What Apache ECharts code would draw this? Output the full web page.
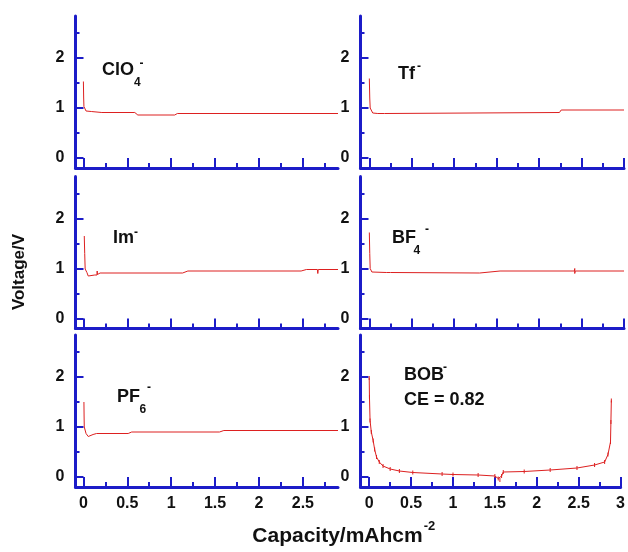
<!DOCTYPE html>
<html><head><meta charset="utf-8">
<script src="https://cdn.jsdelivr.net/npm/echarts@6/dist/echarts.min.js"></script>
<style>html,body{margin:0;padding:0;background:#fff}#c{width:628px;height:552px}</style>
</head><body><div id="c"></div>
<script>
// ---- tick values ----
const xMajorTicks = [0, 0.5, 1, 1.5, 2, 2.5, 3];
const xMinorTicks = [0.25, 0.75, 1.25, 1.75, 2.25, 2.75];
const yMajorTicks = [0, 1, 2];
const yMinorTicks = [0.5, 1.5, 2.5];

// ---- data: [capacity (mAh cm^-2), voltage (V)] ----
const clo4 = [[0,1.53],[0.003,1.2],[0.006,1.03],[0.03,0.94],[0.09,0.93],[0.21,0.91],[0.585,0.91],[0.62,0.86],[1.04,0.86],[1.07,0.89],[2.9,0.89]];
const tf = [[0,1.59],[0.005,1.2],[0.01,1.0],[0.04,0.9],[0.06,0.86],[0.1,0.89],[0.18,0.89],[0.19,0.92],[0.2,0.91],[2.24,0.91],[2.26,0.96],[3.0,0.96]];
const im = [[0.01,1.65],[0.015,1.3],[0.02,0.99],[0.04,0.92],[0.055,0.85],[0.13,0.87],[0.155,0.87],[0.157,0.95],[0.16,0.88],[0.19,0.91],[1.13,0.91],[1.19,0.95],[2.48,0.95],[2.54,0.98],[2.665,0.98],[2.67,0.9],[2.675,0.98],[2.9,0.98]];
const bf4 = [[0,1.72],[0.005,1.3],[0.01,1.0],[0.03,0.93],[0.05,0.91],[0.2,0.92],[0.22,0.95],[0.25,0.92],[0.27,0.91],[1.3,0.91],[1.54,0.95],[2.415,0.95],[2.42,1.0],[2.42,0.9],[2.425,0.95],[3.0,0.95]];
const pf6 = [[0.006,1.5],[0.008,1.2],[0.01,1.0],[0.03,0.87],[0.055,0.81],[0.11,0.85],[0.15,0.87],[0.51,0.87],[0.55,0.9],[1.55,0.9],[1.6,0.93],[2.9,0.93]];
const bob = [[0,1.98],[0.003,1.6],[0.01,1.13],[0.025,0.9],[0.047,0.73],[0.065,0.55],[0.087,0.4],[0.12,0.3],[0.165,0.22],[0.25,0.16],[0.36,0.12],[0.52,0.09],[0.87,0.06],[1.0,0.05],[1.3,0.04],[1.5,0.02],[1.54,-0.03],[1.56,-0.06],[1.58,0.02],[1.6,0.1],[1.85,0.11],[2.16,0.14],[2.48,0.18],[2.69,0.24],[2.81,0.3],[2.85,0.45],[2.88,0.7],[2.885,1.1],[2.89,1.53]];

const BLUE = '#1c1cc8';
const RED = '#dd2020';
const FONT = 'Liberation Sans, Arial, Helvetica, sans-serif';

const panels = [
  {data: clo4, col: 0, row: 0},
  {data: tf,   col: 1, row: 0},
  {data: im,   col: 0, row: 1},
  {data: bf4,  col: 1, row: 1},
  {data: pf6,  col: 0, row: 2},
  {data: bob,  col: 1, row: 2, marks: true}
];
const colLeft = [75.5, 360.5], colWidth = [262.5, 263.5];
const colXRange = [[-0.09, 2.9], [-0.104, 3.0]];
const rowTop = [16, 176.5, 335], gridH = 152;
const yMin = -0.2, yMax = 2.84;

const grid = [], xAxis = [], yAxis = [], series = [];
panels.forEach((p, i) => {
  grid.push({left: colLeft[p.col], top: rowTop[p.row], width: colWidth[p.col], height: gridH, containLabel: false});
  const [xmin, xmax] = colXRange[p.col];
  const maj = xMajorTicks.filter(v => v >= xmin && v <= xmax);
  const mnr = xMinorTicks.filter(v => v >= xmin && v <= xmax);
  const showX = p.row === 2;
  xAxis.push({
    gridIndex: i, type: 'value', min: xmin, max: xmax, position: 'bottom',
    axisLine: {show: true, onZero: false, lineStyle: {color: BLUE, width: 3}},
    axisTick: {show: true, inside: true, length: 10, customValues: maj, lineStyle: {color: BLUE, width: 2}},
    axisLabel: {show: showX, customValues: maj, margin: 9, color: '#111', fontSize: 16, fontWeight: 'bold', fontFamily: FONT},
    splitLine: {show: false}
  });
  xAxis.push({
    gridIndex: i, type: 'value', min: xmin, max: xmax, position: 'bottom',
    axisLine: {show: false, onZero: false},
    axisTick: {show: true, inside: true, length: 5, customValues: mnr, lineStyle: {color: BLUE, width: 2}},
    axisLabel: {show: false}, splitLine: {show: false}
  });
  yAxis.push({
    gridIndex: i, type: 'value', min: yMin, max: yMax, position: 'left',
    axisLine: {show: true, onZero: false, lineStyle: {color: BLUE, width: 3}},
    axisTick: {show: true, inside: true, length: 8, customValues: yMajorTicks, lineStyle: {color: BLUE, width: 2}},
    axisLabel: {show: true, customValues: yMajorTicks, margin: 11, color: '#111', fontSize: 16, fontWeight: 'bold', fontFamily: FONT},
    splitLine: {show: false}
  });
  yAxis.push({
    gridIndex: i, type: 'value', min: yMin, max: yMax, position: 'left',
    axisLine: {show: false, onZero: false},
    axisTick: {show: true, inside: true, length: 4, customValues: yMinorTicks, lineStyle: {color: BLUE, width: 2}},
    axisLabel: {show: false}, splitLine: {show: false}
  });
  series.push({
    type: 'line', xAxisIndex: 2 * i, yAxisIndex: 2 * i, data: p.data,
    symbol: p.marks ? 'rect' : 'none', symbolSize: [1, 4], showAllSymbol: true,
    itemStyle: {color: RED},
    lineStyle: {color: RED, width: 1}, animation: false
  });
});

function txt(s, x, y, size, align) {
  return {type: 'text', x: x, y: y, silent: true,
    style: {text: s, font: 'bold ' + size + 'px ' + FONT, fill: '#111', textAlign: align || 'left', textVerticalAlign: 'middle'}};
}
const ctx = document.createElement('canvas').getContext('2d');
ctx.font = 'bold 21px ' + FONT;
const xTitleMain = 'Capacity/mAhcm';
const xTitleW = ctx.measureText(xTitleMain).width;
const xTitleLeft = 343 - (xTitleW + 11) / 2;

const graphic = [
  txt('ClO', 102, 70, 18), txt('4', 134, 83, 12), txt('-', 139.5, 64, 12),
  txt('Tf', 398, 74, 18), txt('-', 417, 67, 12),
  txt('Im', 113, 238, 18), txt('-', 134, 233, 12),
  txt('BF', 392, 238, 18), txt('4', 413.5, 251, 12), txt('-', 425, 230, 12),
  txt('PF', 117, 397, 18), txt('6', 139.5, 410, 12), txt('-', 147, 388, 12),
  txt('BOB', 404, 375, 18), txt('-', 443, 368, 12),
  txt('CE = 0.82', 404, 400, 18),
  txt(xTitleMain, xTitleLeft, 536, 21), txt('-2', xTitleLeft + xTitleW + 1, 526, 13),
  {type: 'text', x: 19, y: 272, rotation: Math.PI / 2, silent: true,
   style: {text: 'Voltage/V', font: 'bold 17px ' + FONT, fill: '#111', textAlign: 'center', textVerticalAlign: 'middle'}}
];

const chart = echarts.init(document.getElementById('c'), null, {renderer: 'canvas'});
chart.setOption({animation: false, backgroundColor: '#fff', grid, xAxis, yAxis, series, graphic});
</script>
</body></html>
